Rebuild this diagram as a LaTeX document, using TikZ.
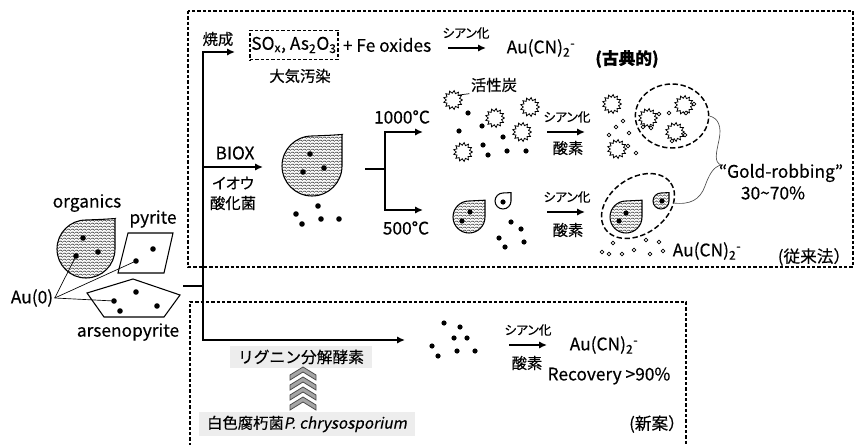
\documentclass[tikz,border=0pt]{standalone}
\usepackage{fontspec}
\setmainfont{Noto Sans CJK JP}[FakeBold=0.35, AutoFakeSlant=0.2]
\newfontfamily\kana{Noto Sans CJK JP}[FakeBold=0.35, RawFeature=+palt]
\usepackage{tikz}
\usetikzlibrary{arrows.meta}
\usetikzlibrary{patterns}
\usetikzlibrary{positioning}
\usetikzlibrary{shapes.geometric}
\definecolor{padgray}{rgb}{0.93, 0.93, 0.93}

% wavy hatching for the organic matter
\pgfdeclarepatternformonly{wavy}{\pgfqpoint{0pt}{0pt}}{\pgfqpoint{3pt}{2.5pt}}{\pgfqpoint{3pt}{2.5pt}}{%
  \pgfsetlinewidth{0.4pt}
  \pgfpathmoveto{\pgfqpoint{-0.75pt}{0.55pt}}
  \pgfpathlineto{\pgfqpoint{0.75pt}{1.95pt}}
  \pgfpathlineto{\pgfqpoint{2.25pt}{0.55pt}}
  \pgfpathlineto{\pgfqpoint{3.75pt}{1.95pt}}
  \pgfusepath{stroke}}

\tikzset{
  latin/.style={font=\fontsize{13}{15}\selectfont, inner sep=1pt},
  jp/.style={font=\fontsize{11.5}{13}\selectfont, inner sep=1pt},
  tiny/.style={font=\kana\fontsize{9.5}{11}\selectfont, inner sep=1pt},
  flow/.style={line width=1.5pt, -{Latex[length=6pt,width=5.5pt]}},
  wire/.style={line width=1.5pt},
  frame/.style={line width=0.9pt, dash pattern=on 2.6pt off 1.4pt},
  halo/.style={line width=1.1pt, dash pattern=on 4pt off 2pt},
  ore/.style={draw, line width=0.8pt, pattern=wavy, pattern color=black!80},
  rock/.style={draw, line width=0.8pt, fill=white},
  leader/.style={line width=0.5pt},
  pad/.style={fill=padgray, inner xsep=6pt, inner ysep=3pt},
  drop/.pic={
    \path[#1] (1,-1.05) .. controls (0.55,-1.02) .. (0,-1)
      arc[start angle=270, end angle=0, radius=1]
      .. controls (1.02,-0.55) .. cycle;
  },
  carbon/.pic={
    \path[draw, fill=white, line width=0.6pt] (0:9.5)
      \foreach \i in {0,...,12} { -- ({\i*27.692+13.846}:6.8) -- ({(\i+1)*27.692}:9.5) } -- cycle;
  },
  chevron/.pic={
    \path[draw=black!70, fill=black!35, line width=0.6pt]
      (-13,8) -- (0,0) -- (13,8) -- (13,13) -- (0,5) -- (-13,13) -- cycle;
  }
}

\begin{document}
\begin{tikzpicture}[x=0.75pt, y=-0.75pt]
  \useasboundingbox (0,0) rectangle (855,445);

  % the two process frames
  \draw[frame] (188,11) rectangle (853,267);
  \draw[frame] (190,446) -- (190,302) -- (686,302) -- (686,446);

  % ores
  \node[latin] (organics) at (87,203) {organics};
  \pic[scale=29] at (86,249) {drop=ore};
  \node[latin] (pyrite) at (153,219) {pyrite};
  \draw[rock] (128,233) -- (173,233) -- (164,273) -- (118,273) -- cycle;
  \draw[rock] (133,279) -- (180,295) -- (164,317) -- (104,317) -- (87,293) -- cycle;
  \node[latin] (arseno) at (128,332) {arsenopyrite};
  \foreach \p in {(83,238),(98,252),(76,256),(153,249),(136,261),
                  (136,292),(114,301),(120,311),(157,306)}
    \fill \p circle[radius=2.8];
  \coordinate (g1) at (76,256);
  \coordinate (g2) at (136,261);
  \coordinate (g3) at (114,301);
  \node[latin] (au0) at (32,298) {Au(0)};
  \draw[leader] (au0.east) -- (g1);
  \draw[leader] (au0.east) -- (g2);
  \draw[leader] (au0.east) -- (g3);

  % main route
  \coordinate (feed) at (183,286);
  \coordinate (hub) at (203,286);
  \coordinate (roast) at (235,52);
  \coordinate (biox) at (263,167);
  \coordinate (enzyme) at (405,340);
  \draw[wire] (feed) -- (hub);
  \draw[flow] (hub) |- (roast);
  \draw[flow] (hub) |- (enzyme);
  \draw[flow] (203,167) -- (biox);

  % roasting
  \node[jp] (shosei) at (218,39) {焼成};
  \node[latin, draw, frame, minimum width=64pt, minimum height=22pt] (gas) at (294,45)
    {SO\textsubscript{x}, As\textsubscript{2}O\textsubscript{3}};
  \node[latin, anchor=west, xshift=2pt] (feox) at (gas.east) {+ Fe oxides};
  \node[jp] (taiki) at (300,76) {大気汚染};
  \coordinate (cn1a) at (448,48);
  \coordinate (cn1b) at (486,48);
  \draw[flow] (cn1a) -- (cn1b);
  \node[tiny] (cn1) at (466,33) {シアン化};
  \node[latin] (aucn1) at (541,48) {Au(CN)\textsubscript{2}\textsuperscript{-}};
  \node[font=\bfseries\fontsize{12.5}{14}\selectfont] (koten) at (627,59) {(古典的)};

  % bio-oxidation
  \node[latin] (bioxlbl) at (235,153) {BIOX};
  \node[jp, font=\kana\fontsize{11.5}{13}\selectfont] (iou) at (233,183) {イオウ};
  \node[jp] (sanka) at (233,203) {酸化菌};
  \pic[scale=30] at (312,166) {drop=ore};
  \foreach \p in {(310,154),(303,172),(324,168),
                  (318,206),(296,214),(321,219),(339,219),(302,224)}
    \fill \p circle[radius=2.8];

  \coordinate (fork) at (385,169);
  \coordinate (hot) at (423,132);
  \coordinate (warm) at (423,210);
  \draw[wire] (365,169) -- (fork);
  \draw[flow] (fork) |- (hot);
  \draw[flow] (fork) |- (warm);
  \node[latin] (t1000) at (402,117) {1000°C};
  \node[latin] (t500) at (406,228) {500°C};

  % 1000 C: carbon and gold
  \foreach \p in {(453,100),(495,118),(530,107),(522,132),(463,152)}
    \pic at \p {carbon};
  \coordinate (c1) at (453,100);
  \node[jp] (katsu) at (494,85) {活性炭};
  \draw[leader] ([shift={(6,-5)}]c1) -- (katsu.south west);
  \foreach \p in {(468,113),(459,131),(482,126),(503,137),(483,145),
                  (488,155),(507,151),(526,151)}
    \fill \p circle[radius=2.6];
  \coordinate (cn2a) at (547,132);
  \coordinate (cn2b) at (585,132);
  \draw[flow] (cn2a) -- (cn2b);
  \node[tiny] (cn2) at (567,117) {シアン化};
  \node[jp] (o2a) at (568,148) {酸素};

  \foreach \p in {(612,104),(617,149),(648,118),(684,105),(675,132)}
    \pic at \p {carbon};
  \foreach \p in {(623,121),(616,127),(629,133),(609,135),(636,153),(669,113),
                  (659,114),(643,127),(651,128),(694,104),(686,113),(685,135),
                  (672,141),(628,146)}
    \draw[line width=0.5pt, fill=white] \p circle[radius=1.8];
  \node[draw, halo, ellipse, minimum width=55pt, minimum height=48pt, inner sep=0pt]
    (robbed1) at (672,116) {};

  % 500 C: partly roasted grains
  \pic[scale=16] at (469,217) {drop=ore};
  \pic[scale=8] at (503,201) {drop=rock};
  \foreach \p in {(470,212),(462,221),(503,202),
                  (511,222),(521,229),(499,238),(524,242),(505,247)}
    \fill \p circle[radius=2.6];
  \coordinate (cn3a) at (547,212);
  \coordinate (cn3b) at (585,212);
  \draw[flow] (cn3a) -- (cn3b);
  \node[tiny] (cn3) at (567,197) {シアン化};
  \node[jp] (o2b) at (568,230) {酸素};

  \pic[scale=16] at (626,217) {drop=ore};
  \pic[scale=8] at (661,201) {drop=ore};
  \foreach \p in {(626,213),(619,221),(662,201)}
    \fill \p circle[radius=2.6];
  \draw[halo, rotate around={35:(638,206)}] (638,206) ellipse[x radius=40, y radius=28];
  \coordinate (robbed2) at (673,203);
  \foreach \p in {(613,243),(602,252),(609,254),(622,254),(634,250),
                  (646,240),(650,254),(659,242),(663,251)}
    \draw[line width=0.5pt, fill=white] \p circle[radius=1.8];
  \node[latin] (aucn2) at (707,251) {Au(CN)\textsubscript{2}\textsuperscript{-}};
  \node[jp, font=\fontsize{12.5}{14}\selectfont] (juurai) at (814,257) {(従来法）};

  % brace to the gold-robbing note
  \draw[leader, black!70] (robbed1.east) .. controls (718,118) and (722,126) .. (719,140)
    .. controls (716,154) and (714,162) .. (721,165)
    .. controls (713,167) and (709,175) .. (705,186)
    .. controls (700,200) and (690,205) .. (robbed2);
  \node[latin, font=\kana\fontsize{13}{15}\selectfont] (robbing) at (781,173) {“Gold-robbing”};
  \node[latin] (ratio) at (773,193) {30\textasciitilde 70\%};

  % enzyme route
  \node[jp, pad, font=\fontsize{11.8}{13}\selectfont] (lignin) at (301,357) {リグニン分解酵素};
  \foreach \y in {397,387,377,367}
    \pic at (303,\y) {chevron};
  \node[jp, pad] (fungus) at (307,424) {白色腐朽菌\textit{P. chrysosporium}};
  \foreach \p in {(444,323),(460,327),(454,338),(467,338),(432,346),
                  (457,351),(475,351),(438,356)}
    \fill \p circle[radius=2.6];
  \coordinate (cn4a) at (509,345);
  \coordinate (cn4b) at (547,345);
  \draw[flow] (cn4a) -- (cn4b);
  \node[tiny] (cn4) at (528,330) {シアン化};
  \node[jp] (o2c) at (527,363) {酸素};
  \node[latin] (aucn3) at (604,345) {Au(CN)\textsubscript{2}\textsuperscript{-}};
  \node[latin] (recovery) at (609,376) {Recovery >90\%};
  \node[jp, font=\fontsize{12.5}{14}\selectfont] (shinan) at (657,424) {(新案）};
\end{tikzpicture}
\end{document}
